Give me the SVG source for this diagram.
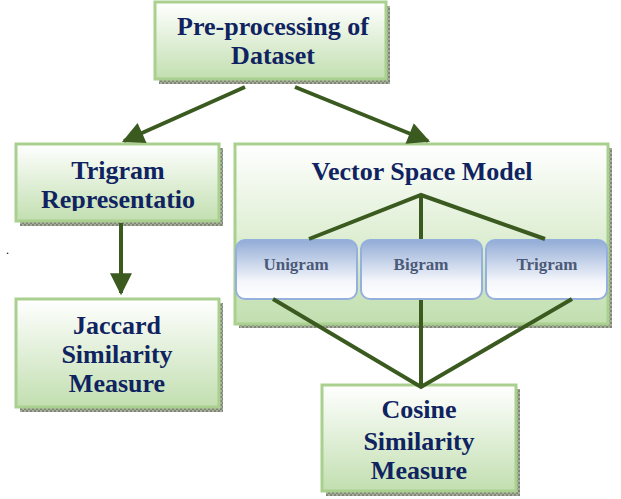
<svg xmlns="http://www.w3.org/2000/svg" width="621" height="499" viewBox="0 0 621 499">
<defs>
<linearGradient id="gGreen" x1="0" y1="0" x2="0" y2="1">
<stop offset="0" stop-color="#ffffff"/>
<stop offset="1" stop-color="#c2dfb0"/>
</linearGradient>
<linearGradient id="gVsm" x1="0" y1="0" x2="0" y2="1">
<stop offset="0" stop-color="#ffffff"/>
<stop offset="0.55" stop-color="#dcedd0"/>
<stop offset="1" stop-color="#c2dfb0"/>
</linearGradient>
<linearGradient id="gBlue" x1="0" y1="0" x2="0" y2="1">
<stop offset="0" stop-color="#92acd6"/>
<stop offset="0.7" stop-color="#f4f6fb"/>
<stop offset="1" stop-color="#ffffff"/>
</linearGradient>
<pattern id="hatch" width="4" height="4" patternUnits="userSpaceOnUse">
<rect width="4" height="4" fill="#a7ad9c"/>
<rect width="2" height="2" fill="#7f8676"/>
<rect x="2" y="2" width="2" height="2" fill="#7f8676"/>
</pattern>
<marker id="ah" viewBox="0 0 10 10" refX="9" refY="5" markerWidth="6" markerHeight="5.5" markerUnits="strokeWidth" orient="auto">
<path d="M0,0 L10,5 L0,10 Z" fill="#3a5a20"/>
</marker>
<clipPath id="clipTri"><rect x="16" y="144" width="203" height="67"/></clipPath>
</defs>
<style>
.shadow{fill:url(#hatch)}
.box{fill:url(#gGreen);stroke:#a9d08e;stroke-width:3}
.sub{fill:url(#gBlue);stroke:#95b0dd;stroke-width:2}
.t{font-family:"Liberation Serif","Times New Roman",serif;font-weight:bold;font-size:26px;fill:#0f2361;text-anchor:middle}
.s{font-family:"Liberation Serif","Times New Roman",serif;font-weight:bold;font-size:17px;fill:#4b5a78;text-anchor:middle}
.ln{stroke:#3a5a20;stroke-width:4;fill:none}
</style>
<rect width="621" height="499" fill="#ffffff"/>
<text x="6" y="254" font-family="Liberation Serif,serif" font-size="12" fill="#000">.</text>

<g id="preprocessing">
<rect class="shadow" x="159" y="6" width="231" height="78"/>
<rect class="box" x="155" y="2" width="231" height="77"/>
<text class="t" x="273" y="35">Pre-processing of</text>
<text class="t" x="273" y="64">Dataset</text>
</g>

<g id="trigram-rep">
<rect class="shadow" x="20" y="148" width="203" height="78"/>
<rect class="box" x="16" y="144" width="203" height="77"/>
<g clip-path="url(#clipTri)">
<text class="t" x="118" y="179">Trigram</text>
<text class="t" x="118" y="208">Representatio</text>
</g>
</g>

<g id="vsm">
<rect class="shadow" x="239" y="148" width="373" height="180"/>
<rect class="box" style="fill:url(#gVsm)" x="235" y="144" width="373" height="180"/>
<text class="t" x="422" y="180">Vector Space Model</text>
</g>

<g id="unigram">
<rect class="sub" x="236" y="240" width="121" height="59" rx="9"/>
<text class="s" x="296" y="270">Unigram</text>
</g>
<g id="bigram">
<rect class="sub" x="361" y="240" width="121" height="59" rx="9"/>
<text class="s" x="421" y="270">Bigram</text>
</g>
<g id="trigram">
<rect class="sub" x="486" y="240" width="121" height="59" rx="9"/>
<text class="s" x="547" y="270">Trigram</text>
</g>

<g id="jaccard">
<rect class="shadow" x="20" y="303" width="203" height="109"/>
<rect class="box" x="16" y="299" width="203" height="108"/>
<text class="t" x="117" y="334">Jaccard</text>
<text class="t" x="117" y="363">Similarity</text>
<text class="t" x="117" y="392">Measure</text>
</g>

<g id="cosine">
<rect class="shadow" x="326" y="389" width="194" height="107"/>
<rect class="box" x="322" y="385" width="194" height="106"/>
<text class="t" x="419" y="418">Cosine</text>
<text class="t" x="419" y="450">Similarity</text>
<text class="t" x="419" y="479">Measure</text>
</g>

<g id="connectors">
<line class="ln" x1="245" y1="87" x2="124" y2="141" marker-end="url(#ah)"/>
<line class="ln" x1="295" y1="87" x2="428" y2="141" marker-end="url(#ah)"/>
<line class="ln" x1="121" y1="223" x2="121" y2="293" marker-end="url(#ah)"/>
<polyline class="ln" points="309,239 421,195 545,239"/>
<line class="ln" x1="421" y1="195" x2="421" y2="239"/>
<polyline class="ln" points="273,299 421,387 572,299"/>
<line class="ln" x1="421" y1="300" x2="421" y2="387"/>
</g>
</svg>
